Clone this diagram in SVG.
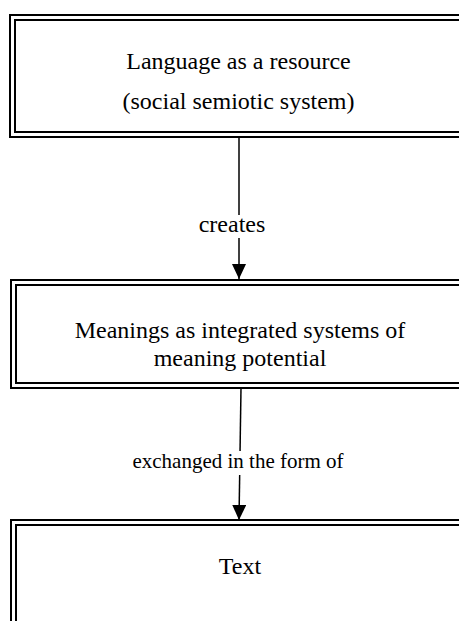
<svg xmlns="http://www.w3.org/2000/svg" width="459" height="621" viewBox="0 0 459 621">
  <style>
    .frame { fill: none; stroke: #000; stroke-width: 2; }
    .label { font-family: "Liberation Serif", "Times New Roman", serif; font-size: 24px; fill: #000; text-anchor: middle; }
    .small { font-size: 21px; }
    .edge { stroke: #000; stroke-width: 1.5; fill: none; }
    .tag-bg { fill: #fff; }
  </style>
  <defs>
    <marker id="head" markerUnits="userSpaceOnUse" markerWidth="16" markerHeight="14" refX="15" refY="7" orient="auto">
      <path d="M0,0 L15,7 L0,14 Z" fill="#000"/>
    </marker>
  </defs>

  <rect width="459" height="621" fill="#fff"/>

  <!-- node: language as resource (double-ruled frame) -->
  <g id="node-language">
    <rect class="frame" x="10" y="15" width="470" height="122"/>
    <rect class="frame" x="15" y="20" width="470" height="112"/>
    <text class="label" x="238.5" y="69">Language as a resource</text>
    <text class="label" x="238.5" y="109">(social semiotic system)</text>
  </g>

  <!-- node: meanings -->
  <g id="node-meanings">
    <rect class="frame" x="11" y="280" width="470" height="108"/>
    <rect class="frame" x="16" y="285" width="470" height="98"/>
    <text class="label" x="240" y="338">Meanings as integrated systems of</text>
    <text class="label" x="240" y="366">meaning potential</text>
  </g>

  <!-- node: text -->
  <g id="node-text">
    <rect class="frame" x="11" y="520" width="470" height="120"/>
    <rect class="frame" x="16" y="525" width="470" height="120"/>
    <text class="label" x="240" y="574">Text</text>
  </g>

  <!-- connectors with their labels -->
  <g id="connectors">
    <line class="edge" x1="239" y1="137" x2="239" y2="279" marker-end="url(#head)"/>
    <rect class="tag-bg" x="196" y="215" width="72" height="23"/>
    <text class="label" x="232" y="232">creates</text>

    <line class="edge" x1="241" y1="388" x2="239" y2="520" marker-end="url(#head)"/>
    <rect class="tag-bg" x="130" y="451" width="218" height="24"/>
    <text class="label small" x="238" y="468">exchanged in the form of</text>
  </g>
</svg>
